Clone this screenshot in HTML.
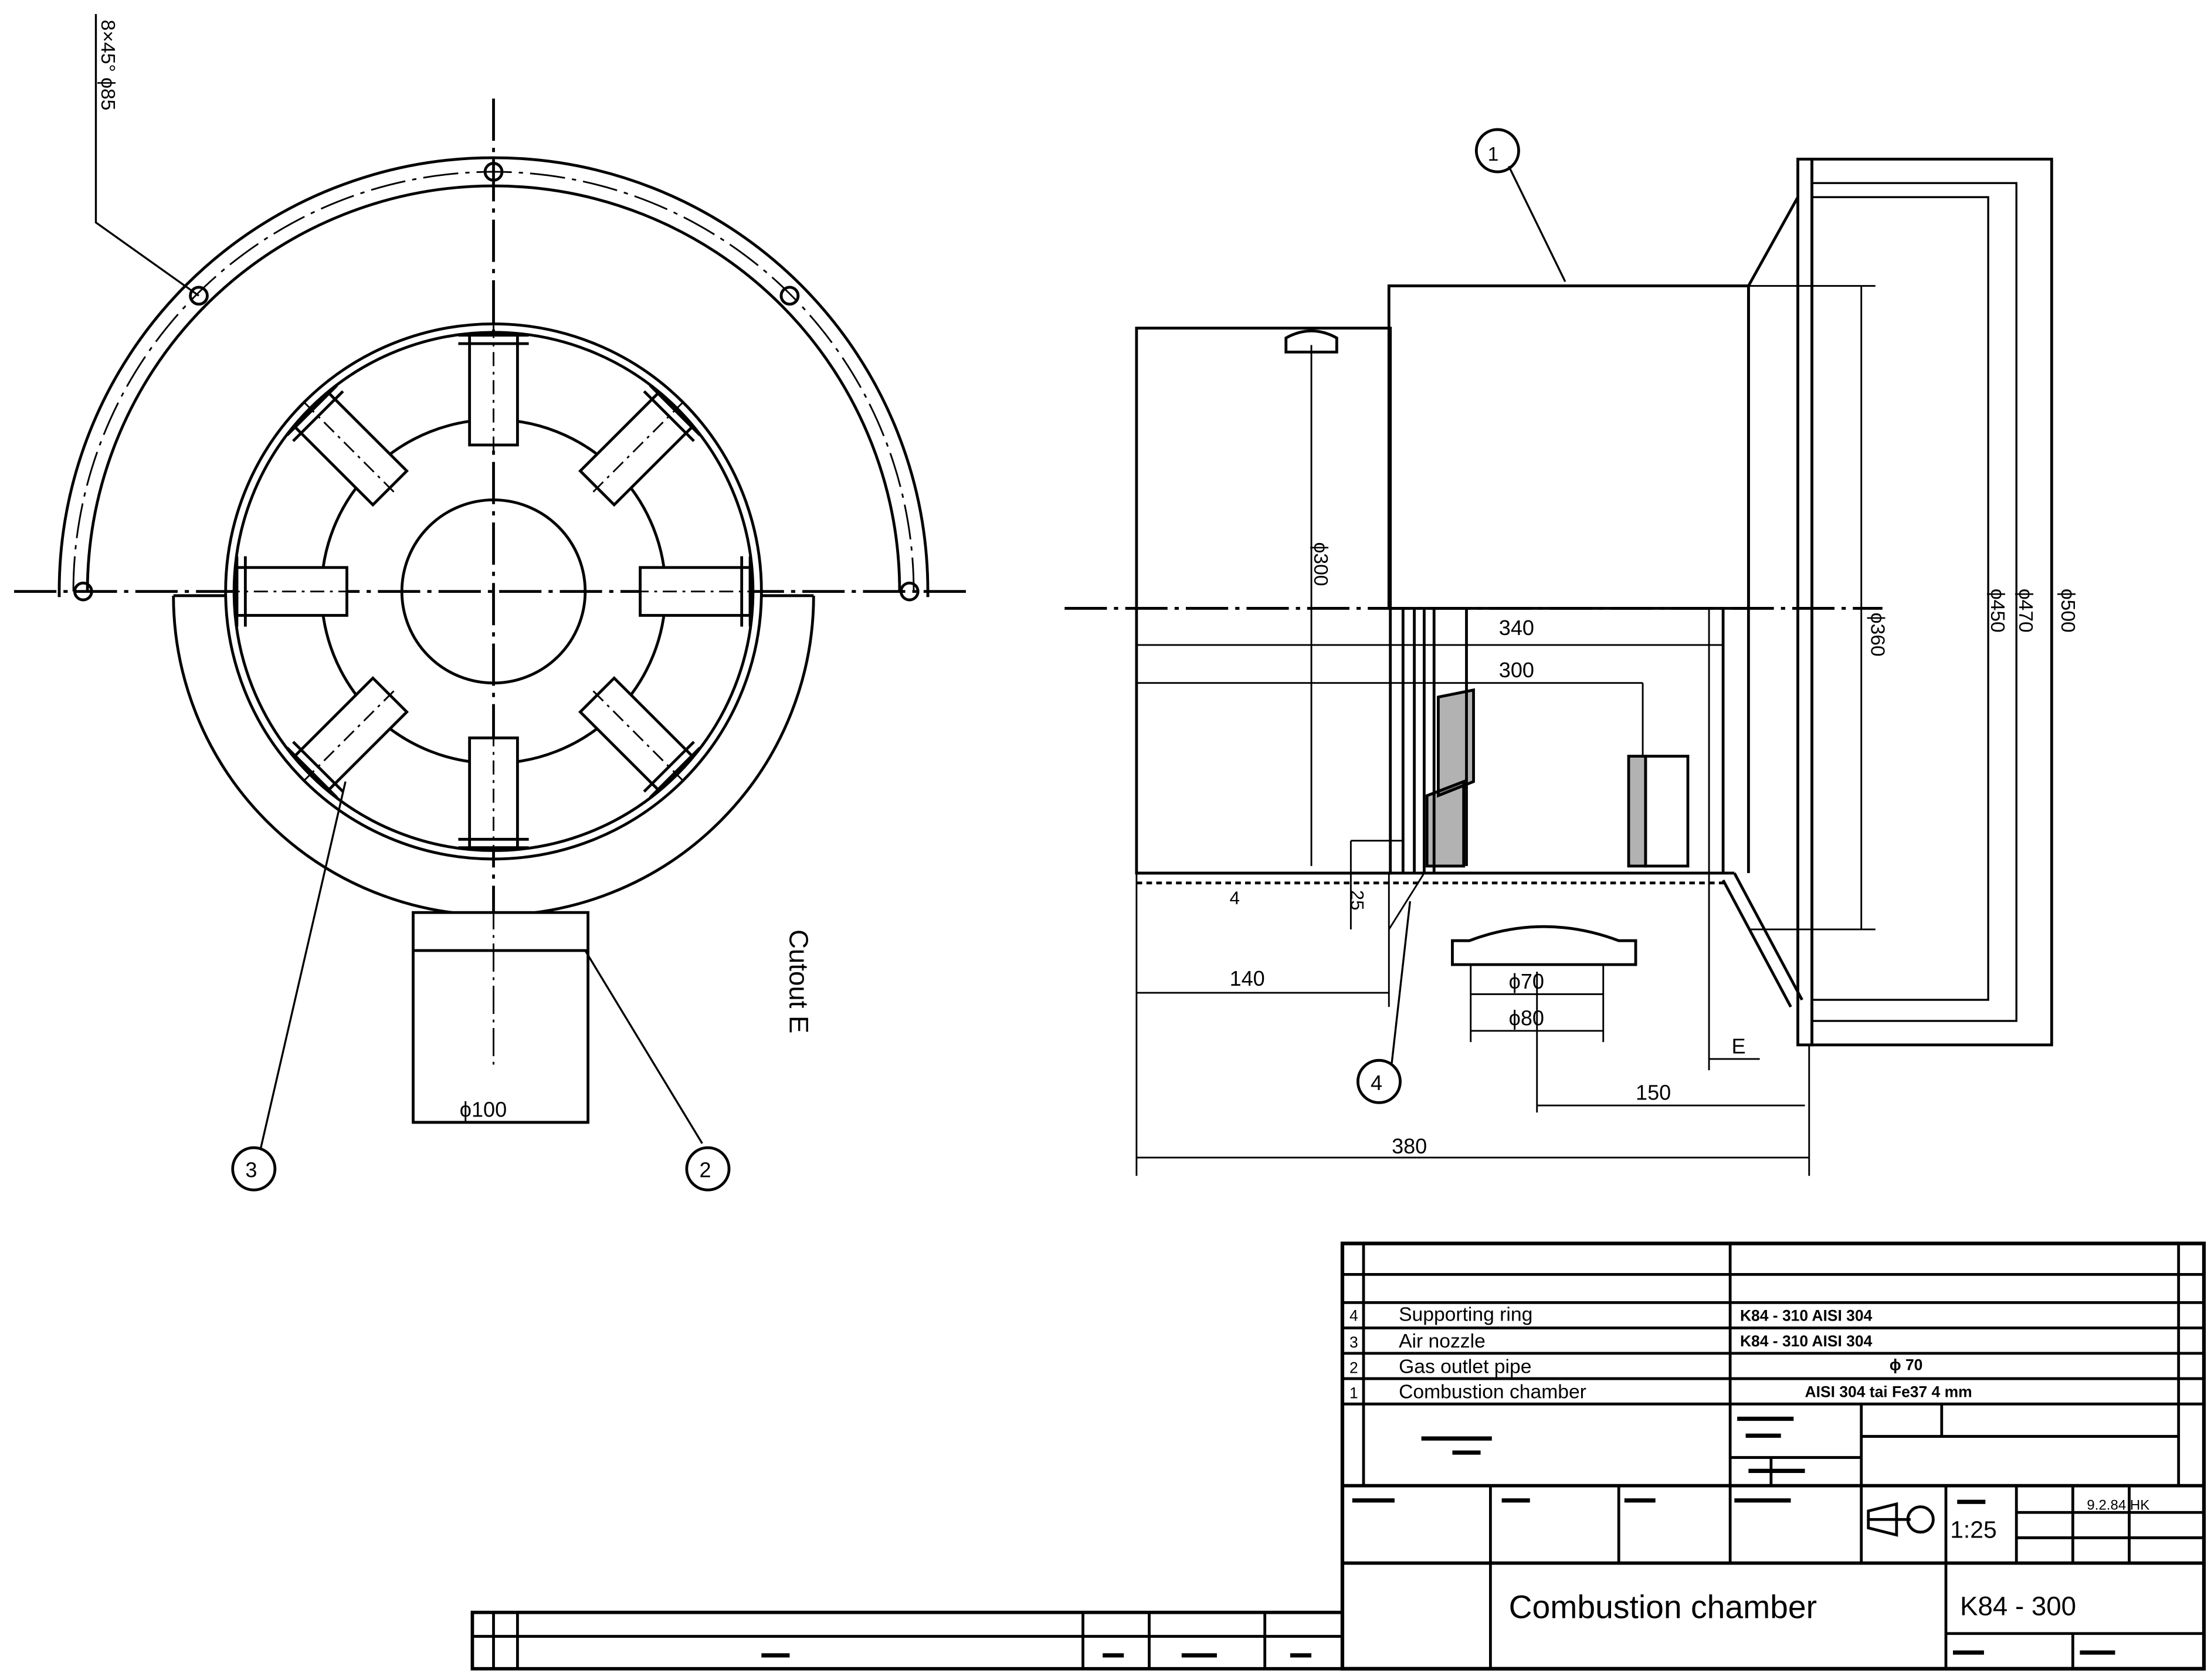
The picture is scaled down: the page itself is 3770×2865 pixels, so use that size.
<!DOCTYPE html>
<html><head><meta charset="utf-8">
<style>
html,body{margin:0;padding:0;background:#fff;}
svg{display:block;}
text{font-family:"Liberation Sans",sans-serif;fill:#000;}
</style></head>
<body>
<svg width="3770" height="2865" viewBox="0 0 1568 1193" preserveAspectRatio="none" xmlns="http://www.w3.org/2000/svg">
<g fill="none" stroke="#000" stroke-width="2">
<!-- LEFT VIEW -->
<line x1="350" y1="70" x2="350" y2="720" stroke-dasharray="30,5,3,5"/>
<line x1="10" y1="420" x2="685" y2="420" stroke-dasharray="30,5,3,5"/>
<path d="M42,420 A308,308 0 0 1 658,420"/>
<path d="M62,420 A288,288 0 0 1 638,420"/>
<path d="M52,420 A298,298 0 0 1 648,420" stroke-dasharray="25,5,3,5" stroke-width="1.2"/>
<circle cx="350" cy="122" r="6"/><circle cx="141" cy="210" r="6"/><circle cx="560" cy="210" r="6"/>
<circle cx="59" cy="420" r="6"/><circle cx="645" cy="420" r="6"/>
<line x1="42" y1="420" x2="42" y2="424"/><line x1="658" y1="420" x2="658" y2="424"/>
<path d="M123,423 A227,227 0 0 0 577,423"/>
<line x1="123" y1="423" x2="160" y2="423"/><line x1="540" y1="423" x2="577" y2="423"/>
<circle cx="350" cy="420" r="190"/>
<circle cx="350" cy="420" r="184"/>
<circle cx="350" cy="420" r="122"/>
<circle cx="350" cy="420" r="65"/>
<g id="nz"><rect x="333" y="238" width="34" height="78" fill="#fff"/><line x1="325" y1="238" x2="375" y2="238"/><line x1="325" y1="244" x2="375" y2="244"/><line x1="350" y1="230" x2="350" y2="320" stroke-dasharray="10,4,2,4" stroke-width="1.2"/></g>
<use href="#nz" transform="rotate(45 350 420)"/>
<use href="#nz" transform="rotate(90 350 420)"/>
<use href="#nz" transform="rotate(135 350 420)"/>
<use href="#nz" transform="rotate(180 350 420)"/>
<use href="#nz" transform="rotate(225 350 420)"/>
<use href="#nz" transform="rotate(270 350 420)"/>
<use href="#nz" transform="rotate(315 350 420)"/>
<rect x="293" y="648" width="124" height="149" fill="#fff"/>
<line x1="293" y1="675" x2="417" y2="675"/>
<line x1="293" y1="797" x2="417" y2="797"/>
<line x1="350" y1="640" x2="350" y2="760" stroke-dasharray="20,4,2,4" stroke-width="1.2"/>
<polyline points="68,10 68,158 141,210" stroke-width="1.4"/>
<line x1="415" y1="675" x2="498" y2="812" stroke-width="1.4"/>
<line x1="245" y1="555" x2="185" y2="815" stroke-width="1.4"/>
<circle cx="180" cy="830" r="15"/><circle cx="502" cy="830" r="15"/>

<!-- RIGHT VIEW -->
<line x1="755" y1="432" x2="1335" y2="432" stroke-dasharray="30,5,3,5"/>
<rect x="806" y="233" width="180" height="387"/>
<rect x="985" y="203" width="255" height="229"/>
<line x1="1240" y1="203" x2="1240" y2="620"/>
<line x1="1240" y1="203" x2="1275" y2="140"/>
<line x1="1230" y1="620" x2="1278" y2="710"/>
<line x1="1222" y1="625" x2="1270" y2="715"/>
<rect x="1275" y="113" width="10" height="629"/>
<rect x="1285" y="113" width="170" height="629"/>
<polyline points="1285,140 1410,140 1410,710 1285,710" stroke-width="1.4"/>
<polyline points="1285,130 1430,130 1430,725 1285,725" stroke-width="1.4"/>
<line x1="1240" y1="203" x2="1330" y2="203" stroke-width="1.2"/>
<line x1="1240" y1="660" x2="1330" y2="660" stroke-width="1.2"/>
<line x1="1320" y1="203" x2="1320" y2="660" stroke-width="1.2"/>
<line x1="806" y1="620" x2="1230" y2="620"/>
<line x1="806" y1="627" x2="1225" y2="627" stroke-dasharray="4,3"/>
<path d="M912,240 Q930,230 948,240 L948,250 L912,250 Z"/>
<line x1="930" y1="245" x2="930" y2="615" stroke-width="1.2"/>
<line x1="995" y1="432" x2="995" y2="620"/><line x1="1003" y1="432" x2="1003" y2="620"/>
<line x1="1010" y1="432" x2="1010" y2="620"/><line x1="1017" y1="432" x2="1017" y2="620"/>
<path d="M1020,495 L1045,490 L1045,555 L1020,565 Z" fill="#000" fill-opacity="0.3"/>
<path d="M1012,565 L1038,555 L1038,615 L1012,615 Z" fill="#000" fill-opacity="0.3"/>
<line x1="1040" y1="432" x2="1040" y2="615"/>
<rect x="1155" y="537" width="12" height="78" fill="#000" fill-opacity="0.3"/>
<rect x="1167" y="537" width="30" height="78"/>
<line x1="1212" y1="432" x2="1212" y2="760" stroke-width="1.2"/>
<line x1="1222" y1="432" x2="1222" y2="620"/>
<line x1="806" y1="458" x2="1222" y2="458" stroke-width="1.2"/>
<line x1="806" y1="485" x2="1165" y2="485" stroke-width="1.2"/><line x1="1165" y1="485" x2="1165" y2="537" stroke-width="1.2"/>
<path d="M1030,668 L1030,685 L1160,685 L1160,668 L1148,668 Q1095,648 1042,668 Z"/>
<line x1="1043" y1="685" x2="1043" y2="740" stroke-width="1.2"/><line x1="1137" y1="685" x2="1137" y2="740" stroke-width="1.2"/>
<line x1="1043" y1="706" x2="1137" y2="706" stroke-width="1.2"/><line x1="1043" y1="732" x2="1137" y2="732" stroke-width="1.2"/>
<line x1="806" y1="705" x2="985" y2="705" stroke-width="1.2"/>
<line x1="985" y1="620" x2="985" y2="715" stroke-width="1.2"/>
<line x1="958" y1="597" x2="995" y2="597" stroke-width="1.2"/><line x1="958" y1="597" x2="958" y2="660" stroke-width="1.2"/>
<line x1="985" y1="660" x2="1010" y2="620" stroke-width="1.2"/>
<line x1="1090" y1="690" x2="1090" y2="790" stroke-width="1.2"/>
<line x1="1090" y1="785" x2="1280" y2="785" stroke-width="1.2"/>
<line x1="806" y1="620" x2="806" y2="835" stroke-width="1.2"/>
<line x1="1283" y1="742" x2="1283" y2="835" stroke-width="1.2"/>
<line x1="806" y1="822" x2="1283" y2="822" stroke-width="1.2"/>
<line x1="1212" y1="752" x2="1248" y2="752" stroke-width="1.2"/>
<line x1="1070" y1="118" x2="1110" y2="200" stroke-width="1.4"/>
<circle cx="1062" cy="107" r="15"/>
<line x1="1000" y1="640" x2="987" y2="755" stroke-width="1.4"/>
<circle cx="978" cy="768" r="15"/>

<!-- TITLE BLOCK -->
<rect x="952" y="883" width="611" height="302" stroke-width="2.6"/>
<line x1="952" y1="905" x2="1563" y2="905"/>
<line x1="952" y1="925" x2="1563" y2="925"/>
<line x1="952" y1="943" x2="1563" y2="943"/>
<line x1="952" y1="961" x2="1563" y2="961"/>
<line x1="952" y1="979" x2="1563" y2="979"/>
<line x1="952" y1="997" x2="1563" y2="997"/>
<line x1="952" y1="1055" x2="1563" y2="1055" stroke-width="2.4"/>
<line x1="952" y1="1110" x2="1563" y2="1110" stroke-width="2.4"/>
<line x1="967" y1="883" x2="967" y2="1055"/>
<line x1="1227" y1="883" x2="1227" y2="1110"/>
<line x1="1545" y1="883" x2="1545" y2="1055"/>
<line x1="1320" y1="997" x2="1320" y2="1020"/>
<line x1="1377" y1="997" x2="1377" y2="1020"/>
<line x1="1320" y1="1020" x2="1545" y2="1020"/>
<line x1="1320" y1="1020" x2="1320" y2="1055"/>
<line x1="1227" y1="1035" x2="1320" y2="1035"/>
<line x1="1256" y1="1035" x2="1256" y2="1055"/>
<line x1="1057" y1="1055" x2="1057" y2="1185"/>
<line x1="1148" y1="1055" x2="1148" y2="1110"/>
<line x1="1320" y1="1055" x2="1320" y2="1110"/>
<line x1="1380" y1="1055" x2="1380" y2="1185"/>
<line x1="1430" y1="1055" x2="1430" y2="1110"/>
<line x1="1430" y1="1074" x2="1563" y2="1074"/>
<line x1="1430" y1="1092" x2="1563" y2="1092"/>
<line x1="1470" y1="1055" x2="1470" y2="1110"/>
<line x1="1510" y1="1055" x2="1510" y2="1110"/>
<line x1="1380" y1="1160" x2="1563" y2="1160"/>
<line x1="1470" y1="1160" x2="1470" y2="1185"/>
<path d="M1325,1073 L1345,1068 L1345,1090 L1325,1085 Z M1325,1079 L1355,1079"/>
<circle cx="1362" cy="1079" r="9"/>
<rect x="335" y="1145" width="617" height="40" stroke-width="2.4"/>
<line x1="335" y1="1162" x2="952" y2="1162"/>
<line x1="350" y1="1145" x2="350" y2="1185"/><line x1="367" y1="1145" x2="367" y2="1185"/>
<line x1="768" y1="1145" x2="768" y2="1185"/><line x1="815" y1="1145" x2="815" y2="1185"/>
<line x1="897" y1="1145" x2="897" y2="1185"/>
</g>
<g fill="#000" stroke="none">
<rect x="1008" y="1020" width="50" height="3"/><rect x="1030" y="1030" width="20" height="3"/>
<rect x="1232" y="1006" width="40" height="3"/><rect x="1238" y="1018" width="25" height="3"/>
<rect x="1240" y="1043" width="40" height="3"/><rect x="1388" y="1065" width="20" height="3"/>
<rect x="959" y="1064" width="30" height="3"/><rect x="1065" y="1064" width="20" height="3"/>
<rect x="1152" y="1064" width="22" height="3"/><rect x="1230" y="1064" width="40" height="3"/>
<rect x="1385" y="1172" width="22" height="3"/><rect x="1475" y="1172" width="25" height="3"/>
<rect x="540" y="1174" width="20" height="3"/><rect x="782" y="1174" width="15" height="3"/>
<rect x="838" y="1174" width="25" height="3"/><rect x="915" y="1174" width="15" height="3"/>
</g>
<g font-size="14">
<text x="992" y="938">Supporting ring</text>
<text x="992" y="957">Air nozzle</text>
<text x="992" y="975">Gas outlet pipe</text>
<text x="992" y="993">Combustion chamber</text>
<text x="957" y="938" font-size="11">4</text><text x="957" y="957" font-size="11">3</text>
<text x="957" y="975" font-size="11">2</text><text x="957" y="993" font-size="11">1</text>
<text x="1234" y="938" font-size="11" font-weight="bold">K84 - 310      AISI  304</text>
<text x="1234" y="956" font-size="11" font-weight="bold">K84 - 310      AISI  304</text>
<text x="1340" y="973" font-size="11" font-weight="bold">ϕ 70</text>
<text x="1280" y="992" font-size="11" font-weight="bold">AISI 304 tai Fe37  4 mm</text>
<text x="1070" y="1149" font-size="23">Combustion chamber</text>
<text x="1390" y="1147" font-size="19">K84 - 300</text>
<text x="1383" y="1092" font-size="17">1:25</text>
<text x="1480" y="1072" font-size="10">9.2.84  HK</text>
<text x="1055" y="114">1</text>
<text x="174" y="836" font-size="15">3</text>
<text x="496" y="836" font-size="15">2</text>
<text x="972" y="774" font-size="15">4</text>
<text x="326" y="793" font-size="15">ϕ100</text>
<text x="1063" y="451" font-size="15">340</text>
<text x="1063" y="481" font-size="15">300</text>
<text x="872" y="700" font-size="15">140</text>
<text x="1070" y="702" font-size="15">ϕ70</text>
<text x="1070" y="728" font-size="15">ϕ80</text>
<text x="1160" y="781" font-size="15">150</text>
<text x="987" y="819" font-size="15">380</text>
<text x="1228" y="748" font-size="15">E</text>
<text x="872" y="642" font-size="13">4</text>
<text transform="translate(560,660) rotate(90)" font-size="19">Cutout E</text>
<text transform="translate(72,14) rotate(90)" font-size="14">8×45° ϕ85</text>
<text transform="translate(932,385) rotate(90)" font-size="14">ϕ300</text>
<text transform="translate(1327,435) rotate(90)" font-size="14">ϕ360</text>
<text transform="translate(1412,418) rotate(90)" font-size="14">ϕ450</text>
<text transform="translate(1432,418) rotate(90)" font-size="14">ϕ470</text>
<text transform="translate(1462,418) rotate(90)" font-size="14">ϕ500</text>
<text transform="translate(958,632) rotate(90)" font-size="13">25</text>
</g>
</svg>
</body></html>
